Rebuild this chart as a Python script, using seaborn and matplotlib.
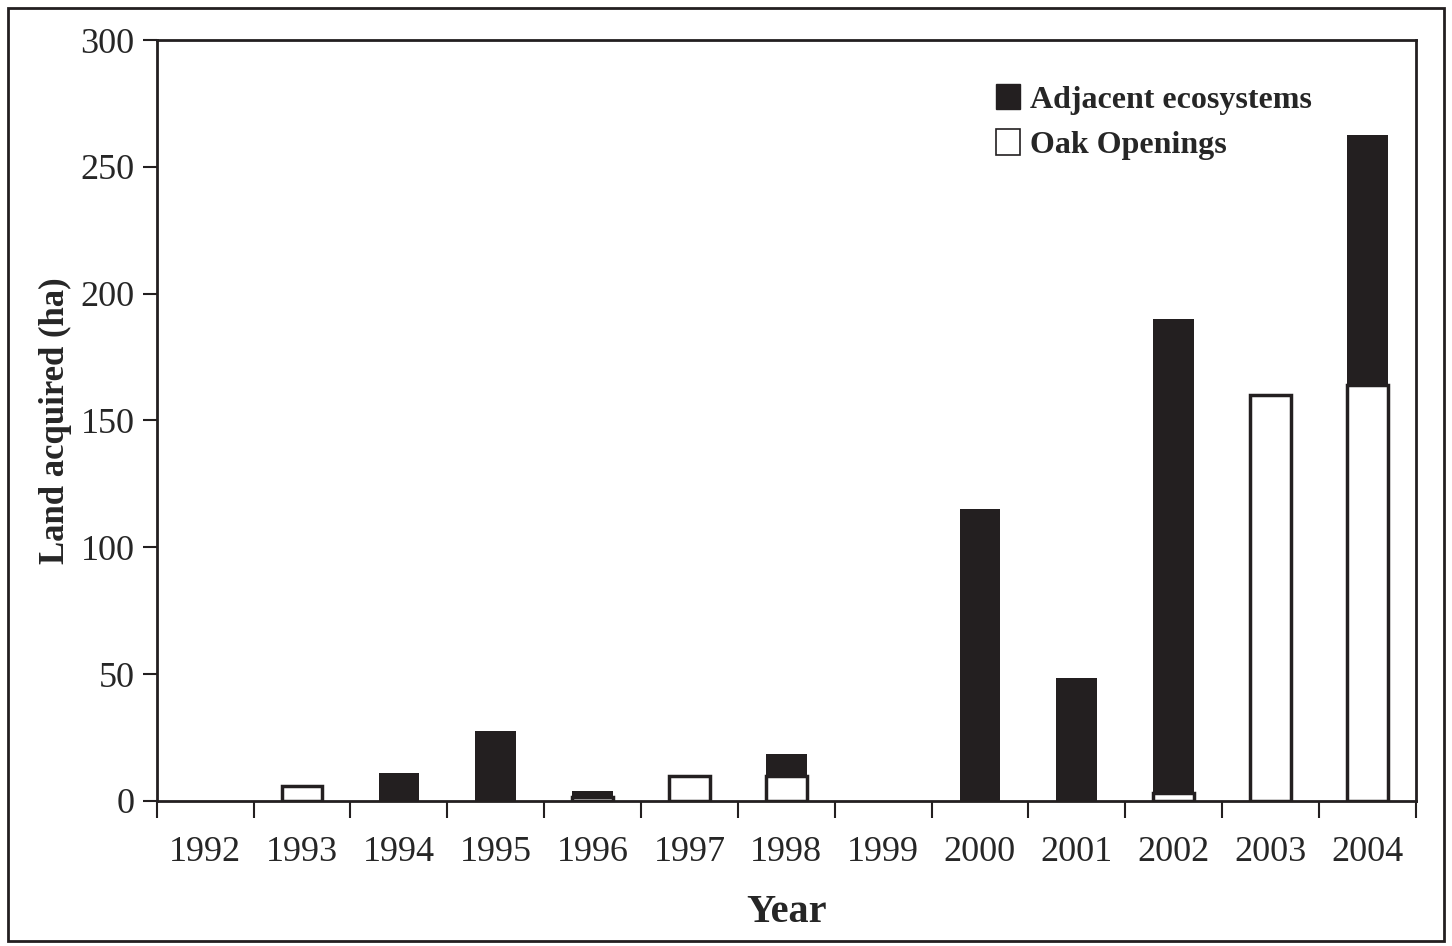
import numpy as np
import pandas as pd
import matplotlib
matplotlib.use("Agg")
import matplotlib.pyplot as plt
import seaborn as sns
from matplotlib.patches import Patch, Rectangle

# data (ha)
years = ["1992", "1993", "1994", "1995", "1996", "1997", "1998",
         "1999", "2000", "2001", "2002", "2003", "2004"]
oak_openings = [0, 6, 0, 0, 1.5, 10, 10, 0, 0, 0, 3, 160, 164]
adjacent = [0, 0, 11, 27.5, 2.5, 0, 8.5, 0, 115, 48.5, 187, 0, 98.5]

df = pd.DataFrame({"year": years, "oak": oak_openings, "adjacent": adjacent})
df["total"] = df["oak"] + df["adjacent"]
# empty years get no outline
df["oak_drawn"] = df["oak"].where(df["oak"] > 0)

sns.set_theme(style="ticks")
plt.rcParams["font.family"] = ["Liberation Serif", "DejaVu Serif"]

fig = plt.figure(figsize=(14.52, 9.46), dpi=100)
ax = fig.add_axes([0.108, 0.1533, 0.867, 0.8044])

# stacked bars: full height in black, oak part drawn over it in white
sns.barplot(data=df, x="year", y="total", color="#231f20", saturation=1,
            width=0.42, edgecolor="#231f20", linewidth=0, ax=ax)
sns.barplot(data=df, x="year", y="oak_drawn", color="white", saturation=1,
            width=0.42, edgecolor="#231f20", linewidth=2.5, ax=ax)

ax.set_ylim(0, 300)
ax.set_xlim(-0.5, 12.5)
ax.set_yticks(np.arange(0, 301, 50))
ax.tick_params(axis="y", labelsize=26, length=10, width=1.5, color="#231f20", pad=6)
ax.tick_params(axis="x", which="major", labelsize=26, length=0, pad=25)
ax.set_xticks(np.arange(-0.5, 13, 1), minor=True)
ax.tick_params(axis="x", which="minor", length=12, width=1.5, color="#231f20")

for s in ax.spines.values():
    s.set_visible(True)
    s.set_color("#231f20")
    s.set_linewidth(2)

ax.set_xlabel("Year", fontsize=29, fontweight="bold", labelpad=18)
ax.set_ylabel("Land acquired (ha)", fontsize=25, fontweight="bold", labelpad=6)

handles = [Patch(facecolor="#231f20", edgecolor="#231f20", label="Adjacent ecosystems"),
           Patch(facecolor="white", edgecolor="#231f20", linewidth=1.2, label="Oak Openings")]
ax.legend(handles=handles, loc="upper right", bbox_to_anchor=(0.94, 0.98), frameon=False,
          prop={"size": 23, "weight": "bold"}, handlelength=0.75, handleheight=0.85,
          handletextpad=0.3, labelspacing=0.45)

# frame around whole figure
fig.patches.append(Rectangle((0.0055, 0.005), 0.989, 0.987, transform=fig.transFigure,
                             fill=False, edgecolor="#231f20", linewidth=2))

fig.savefig("out.png", dpi=100)
